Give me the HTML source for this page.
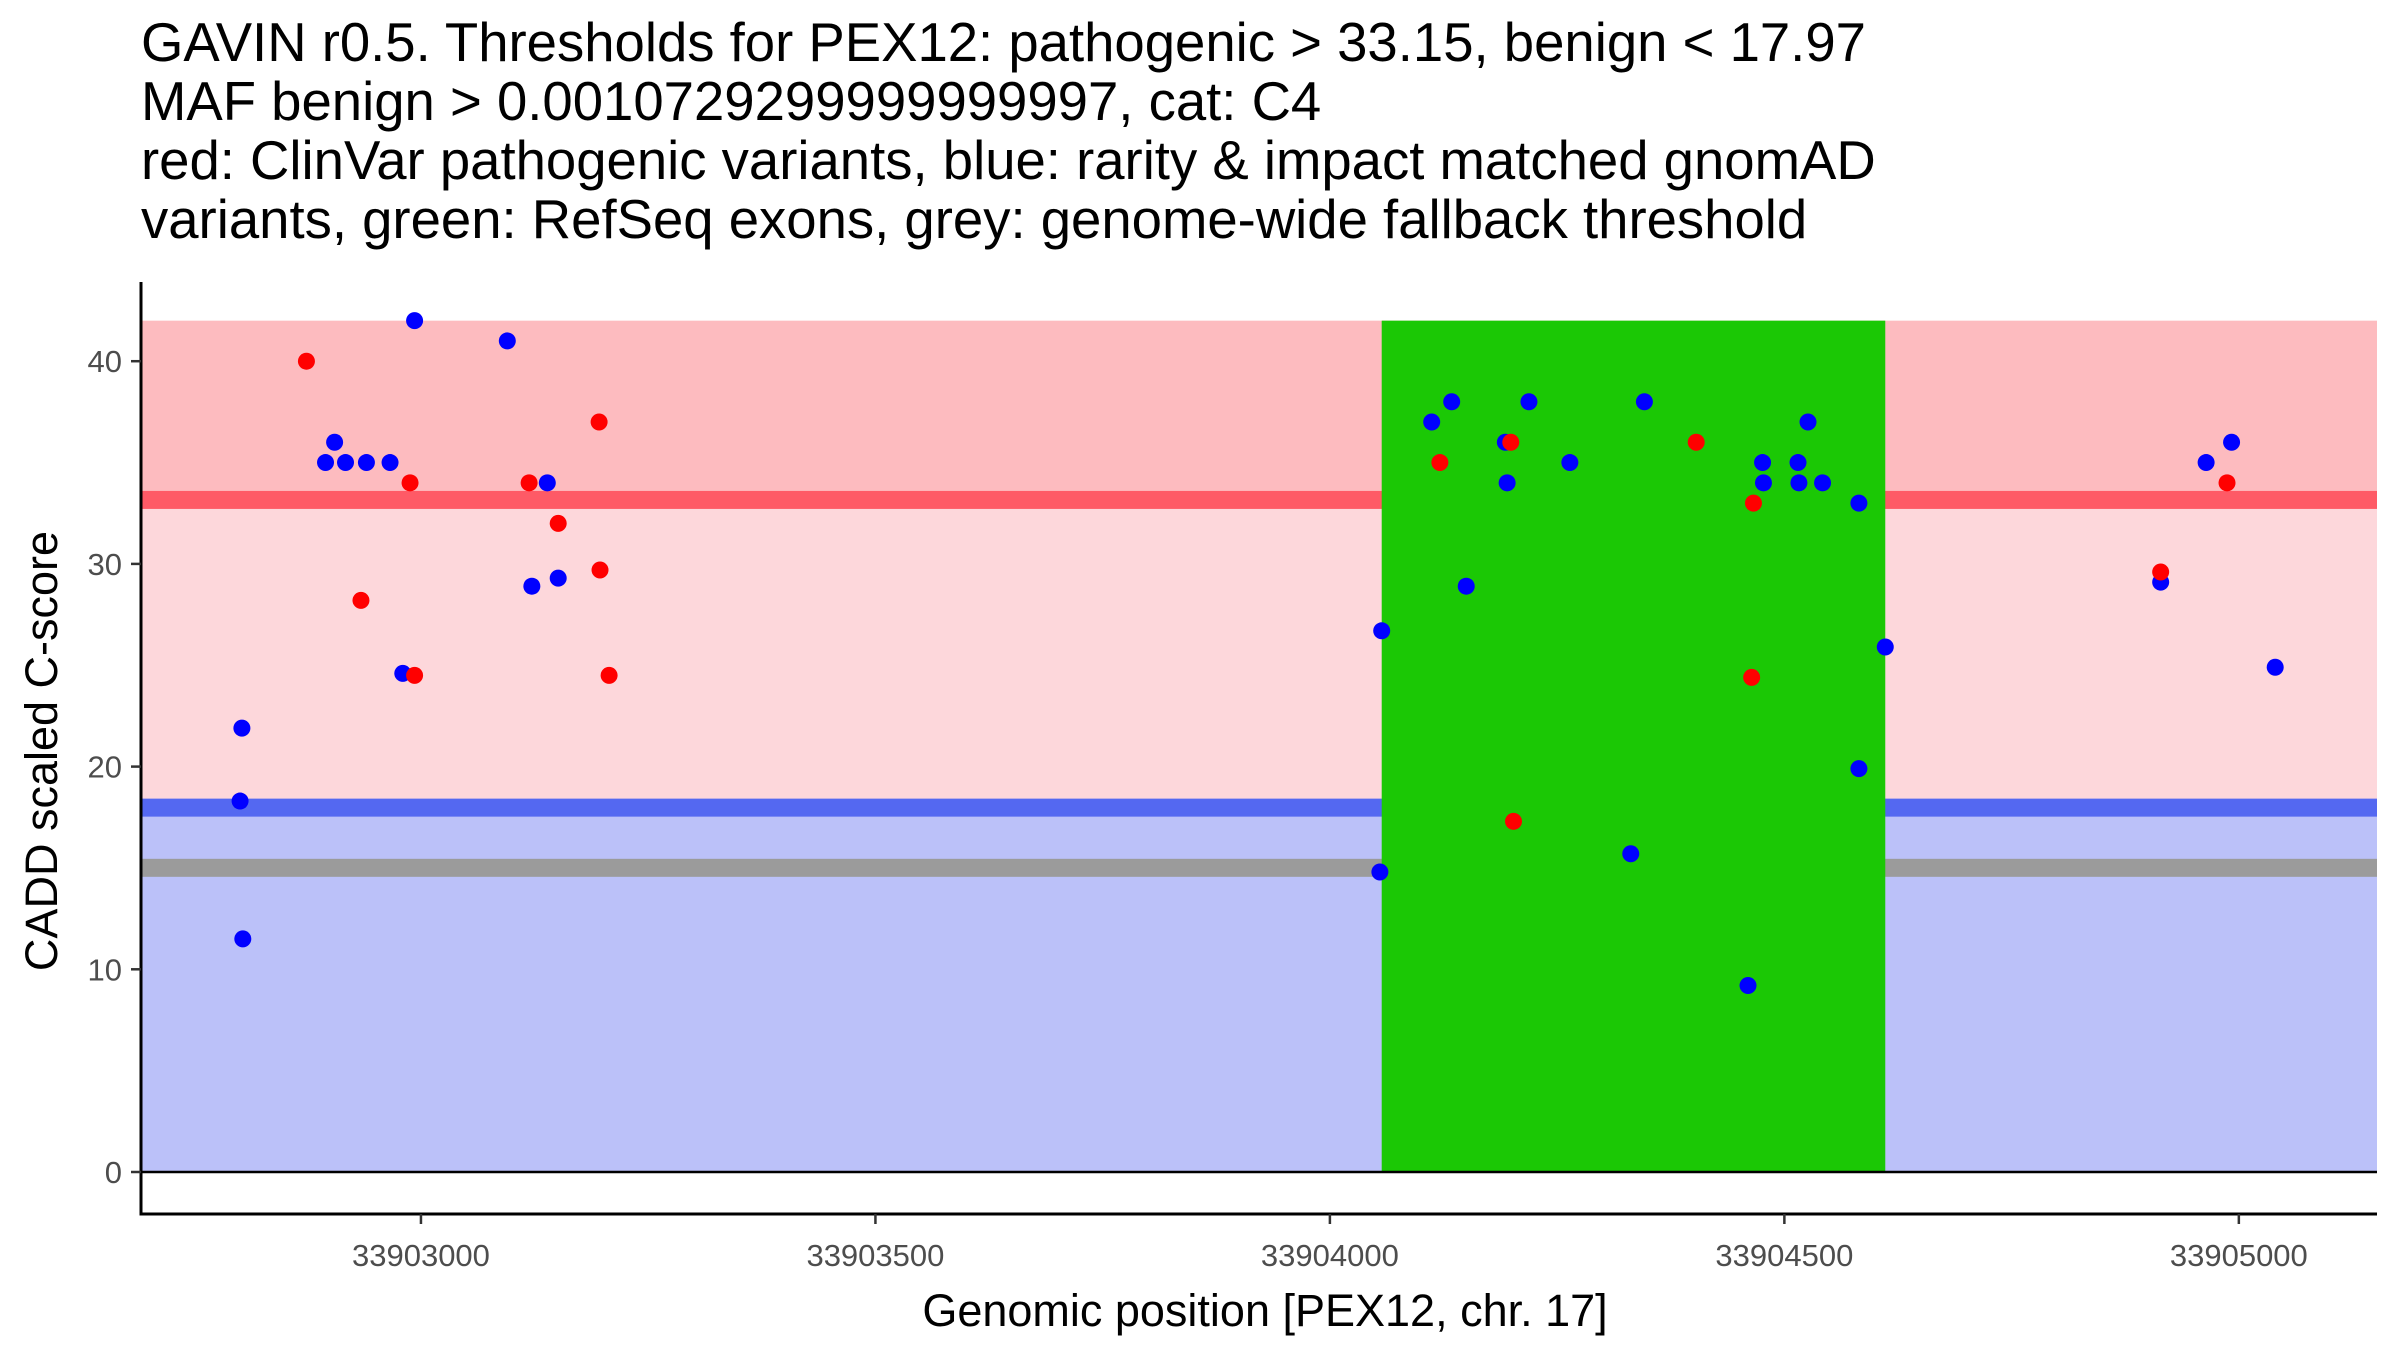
<!DOCTYPE html>
<html><head><meta charset="utf-8"><style>
html,body{margin:0;padding:0;background:#fff;}
svg{display:block;font-family:"Liberation Sans",Arial,sans-serif;}
</style></head><body>
<svg id="chart" width="2400" height="1350" viewBox="0 0 2400 1350" xmlns="http://www.w3.org/2000/svg">
<g font-size="54.5" fill="#000">
<text x="141" y="61">GAVIN r0.5. Thresholds for PEX12: pathogenic &gt; 33.15, benign &lt; 17.97</text>
<text x="141" y="120">MAF benign &gt; 0.0010729299999999997, cat: C4</text>
<text x="141" y="179">red: ClinVar pathogenic variants, blue: rarity &amp; impact matched gnomAD</text>
<text x="141" y="238">variants, green: RefSeq exons, grey: genome-wide fallback threshold</text>
</g>
<g id="bands"></g>
<g id="points"></g>
<g id="axes"></g>
<text x="1265" y="1326" text-anchor="middle" font-size="45" fill="#000">Genomic position [PEX12, chr. 17]</text>
<text transform="translate(57,751) rotate(-90)" text-anchor="middle" font-size="45" fill="#000">CADD scaled C-score</text>
</svg>
<script>
const pathoThreshold = 33.15;
const benignThreshold = 17.97;
const fallbackThreshold = 15;
const yMaxBand = 42;
const exonStart = [33904057];
const exonEnd = [33904611];
const xTicks = [33903000, 33903500, 33904000, 33904500, 33905000];
const yTicks = [0, 10, 20, 30, 40];
const pathoX = [33902874,33902934,33902993,33902988,33903119,33903151,33903196,33903197,33903207,33904121,33904199,33904202,33904403,33904466,33904464,33904914,33904987];
const pathoY = [40,28.2,24.5,34,34,32,37,29.7,24.5,35,36,17.3,36,33,24.4,29.6,34];
const gnomadX = [33902803,33902801,33902804,33902895,33902905,33902917,33902940,33902966,33902980,33902993,33903095,33903139,33903122,33903151,33904057,33904055,33904112,33904134,33904150,33904193,33904195,33904219,33904264,33904331,33904346,33904460,33904476,33904477,33904515,33904516,33904526,33904542,33904582,33904582,33904611,33904914,33904964,33904992,33905040];
const gnomadY = [21.9,18.3,11.5,35,36,35,35,35,24.6,42,41,34,28.9,29.3,26.7,14.8,37,38,28.9,36,34,38,35,15.7,38,9.2,35,34,35,34,37,34,33,19.9,25.9,29.1,35,36,24.9];

const X0=141, X1=2377, Y0=1214;
const dMin=33902692, dMax=33905152;
const sx = v => X0 + (v-dMin)/(dMax-dMin)*(X1-X0);
const sy = v => 1172 - v*20.27;
const NS="http://www.w3.org/2000/svg";
function mk(tag, parent, attrs){const e=document.createElementNS(NS,tag);for(const k in attrs)e.setAttribute(k,attrs[k]);parent.appendChild(e);return e;}
const bands=document.getElementById('bands');
let r;
r=mk('rect',bands,{x:X0,y:sy(yMaxBand),width:X1-X0,height:sy(pathoThreshold)-sy(yMaxBand),fill:'#fdbbbf'});


r=mk('rect',bands,{x:X0,y:sy(pathoThreshold),width:X1-X0,height:sy(benignThreshold)-sy(pathoThreshold),fill:'#fdd7db'});


r=mk('rect',bands,{x:X0,y:sy(benignThreshold),width:X1-X0,height:sy(0)-sy(benignThreshold),fill:'#bbc1f9'});


r=mk('rect',bands,{x:X0,y:sy(pathoThreshold+0.45),width:X1-X0,height:18,fill:'#fe5a66'});


r=mk('rect',bands,{x:X0,y:sy(benignThreshold+0.45),width:X1-X0,height:18,fill:'#5468f1'});


r=mk('rect',bands,{x:X0,y:sy(fallbackThreshold+0.45),width:X1-X0,height:18,fill:'#9b9b9b'});


for(let i=0;i<exonStart.length;i++){
  r=mk('rect',bands,{x:sx(exonStart[i]),y:sy(yMaxBand),width:sx(exonEnd[i])-sx(exonStart[i]),height:sy(0)-sy(yMaxBand),fill:'#1bc805'});
  
  
}
r=mk('line',bands,{x1:X0,x2:X1,y1:sy(0),y2:sy(0),stroke:'#000','stroke-width':2.5});


const pts=document.getElementById('points');
for(let i=0;i<gnomadX.length;i++){
  const c=mk('circle',pts,{cx:sx(gnomadX[i]),cy:sy(gnomadY[i]),r:8.5,fill:'#0000ff'});
  
  
}
for(let i=0;i<pathoX.length;i++){
  const c=mk('circle',pts,{cx:sx(pathoX[i]),cy:sy(pathoY[i]),r:8.5,fill:'#ff0000'});
  
  
}
const ax=document.getElementById('axes');
r=mk('line',ax,{x1:X0,x2:X0,y1:282,y2:Y0+1.5,stroke:'#000','stroke-width':3});


r=mk('line',ax,{x1:X0-1.5,x2:X1,y1:Y0,y2:Y0,stroke:'#000','stroke-width':3});


yTicks.forEach(v=>{
  const t=mk('line',ax,{x1:X0-10,x2:X0,y1:sy(v),y2:sy(v),stroke:'#333','stroke-width':2.5});
  
  
  const l=mk('text',ax,{x:X0-19,y:sy(v)+11,'text-anchor':'end','font-size':31,fill:'#4d4d4d'});
  l.textContent=v;
  
  
});
xTicks.forEach(v=>{
  const t=mk('line',ax,{x1:sx(v),x2:sx(v),y1:Y0,y2:Y0+10,stroke:'#333','stroke-width':2.5});
  
  
  const l=mk('text',ax,{x:sx(v),y:Y0+52,'text-anchor':'middle','font-size':31,fill:'#4d4d4d'});
  l.textContent=v;
  
  
});
</script>
</body></html>
